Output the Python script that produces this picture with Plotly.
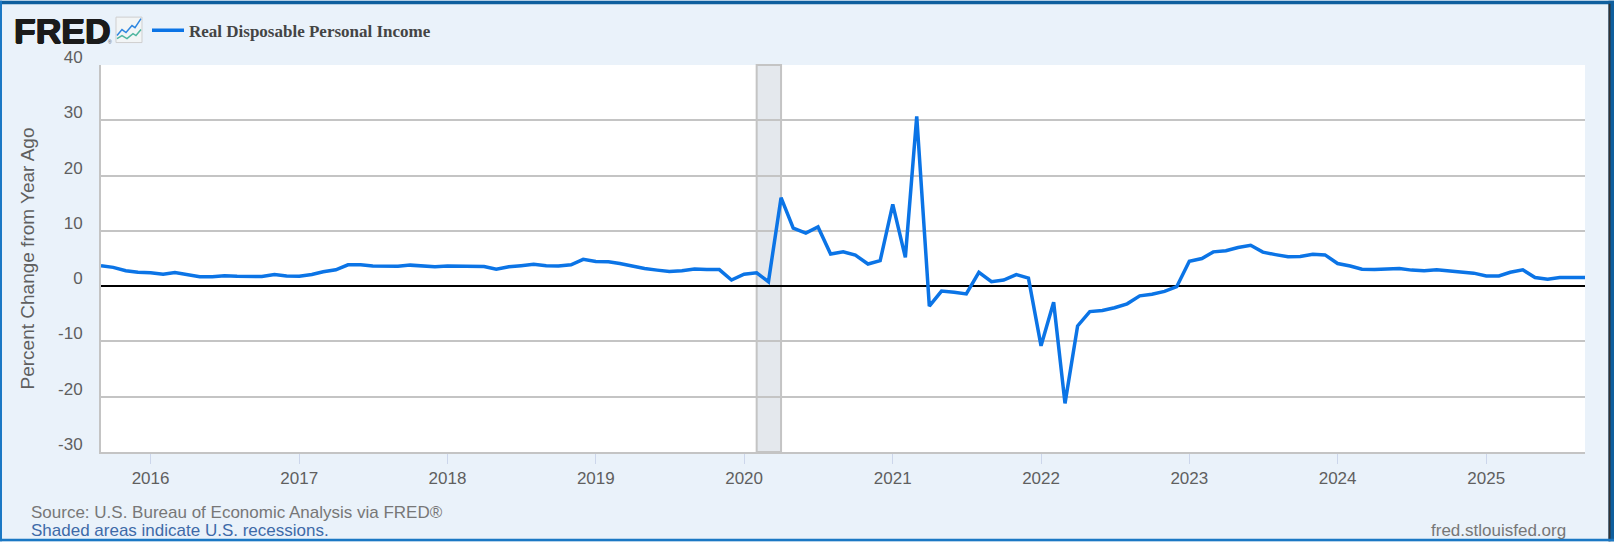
import pandas as pd
import plotly.graph_objects as go

W, H = 1614, 542
ML, MR, MT, MB = 101, 29, 64.5, 89.5

dates = pd.date_range('2015-09-01', '2025-09-01', freq='MS')
income = [
    3.7, 3.4, 2.8, 2.5, 2.4, 2.15, 2.45, 2.05, 1.7, 1.7, 1.9, 1.8,
    1.75, 1.75, 2.1, 1.85, 1.8, 2.1, 2.6, 2.95, 3.85, 3.85, 3.65, 3.65,
    3.6, 3.8, 3.65, 3.5, 3.65, 3.65, 3.6, 3.55, 3.05, 3.5, 3.7, 3.95,
    3.7, 3.65, 3.85, 4.85, 4.45, 4.4, 4.1, 3.6, 3.2, 2.9, 2.65, 2.8,
    3.1, 3.0, 3.0, 1.1, 2.15, 2.4, 0.8, 16.0, 10.5, 9.6, 10.7, 5.8,
    6.2, 5.6, 4.0, 4.6, 14.8, 5.2, 30.7, -3.6, -0.9, -1.1, -1.4, 2.5,
    0.8, 1.1, 2.1, 1.45, -10.8, -2.9, -21.2, -7.2, -4.6, -4.4, -3.9, -3.2,
    -1.75, -1.45, -0.95, -0.1, 4.5, 5.0, 6.2, 6.4, 7.0, 7.4, 6.15, 5.7,
    5.3, 5.35, 5.75, 5.65, 4.1, 3.65, 3.05, 3.0, 3.05, 3.2, 2.9, 2.8,
    2.95, 2.8, 2.55, 2.35, 1.85, 1.85, 2.5, 2.95, 1.55, 1.25, 1.55, 1.6,
    1.55,
]
y_ticks = [-30, -20, -10, 0, 10, 20, 30, 40]
y_labels = ['-30', '-20', '-10', '0', '10', '20', '30', '40']
recession = ['2020-02-01', '2020-04-01']

BG = '#eaf2fa'
GRID = '#c4c4c4'
TEXT = '#5f5f5f'


# page pixels to paper coordinates, for the furniture outside the plot
def px(x):
    return (x - ML) / (W - ML - MR)


def py(y):
    return 1 - (y - MT) / (H - MT - MB)


def path(points):
    return 'M ' + ' L '.join(f'{px(a):.5f},{py(b):.5f}' for a, b in points)


def box(x0, y0, x1, y1, color):
    return dict(type='rect', xref='paper', yref='paper', x0=px(x0), y0=py(y0), x1=px(x1), y1=py(y1),
                fillcolor=color, line_width=0, layer='below')


def note(x, y, text, size, color, anchor='left', family='Liberation Sans', weight=None, shadow=None):
    return dict(xref='paper', yref='paper', x=px(x), y=py(y), text=text, showarrow=False,
                xanchor=anchor, yanchor='middle', align='left', borderpad=0,
                font=dict(family=family, size=size, color=color, weight=weight, shadow=shadow))


fig = go.Figure()
fig.add_trace(go.Scatter(x=dates, y=income, mode='lines', name='Real Disposable Personal Income',
                         line=dict(color='#0b74e6', width=3.5), showlegend=True))

shapes = [
    # frame
    box(0, 0, W, 3.5, '#0f5f9e'),
    box(0, 0, 2, H, '#1b78c4'),
    box(1608.5, 0, W, H, '#0f5f9e'),
    box(1608.5, 3, 1610.5, H, '#333333'),
    box(0, 539.5, W, H, '#1b78c4'),
    # line icon next to the logo
    dict(type='rect', xref='paper', yref='paper', x0=px(116), y0=py(16.5), x1=px(142), y1=py(42),
         fillcolor='#f2f5f6', line=dict(color='#cfcfcf', width=1)),
    dict(type='path', xref='paper', yref='paper', line=dict(color='#2f86e0', width=1.5),
         path=path([(117, 35), (122, 29), (126, 32), (132, 25), (135, 27), (141, 18)])),
    dict(type='path', xref='paper', yref='paper', line=dict(color='#4fb6a0', width=1.5),
         path=path([(117, 38), (122, 35), (127, 38), (133, 33), (136, 35), (141, 29)])),
    # recession band
    dict(type='rect', xref='x', yref='paper', x0=recession[0], x1=recession[1], y0=0, y1=1,
         fillcolor='#e4e8ed', line=dict(color=GRID, width=2), layer='below'),
]

annotations = [
    note(13, 30, 'FRED', 35.5, '#1b1b1b', weight=900,
         shadow='0.8px 0 0 #1b1b1b, -0.8px 0 0 #1b1b1b, 0 0.5px 0 #1b1b1b, 0 -0.5px 0 #1b1b1b'),
    note(106.5, 41, '®', 5, '#555555'),
    note(30, 513, 'Source: U.S. Bureau of Economic Analysis via FRED®', 17, '#777777'),
    note(30, 531, 'Shaded areas indicate U.S. recessions.', 17, '#3e6aa8'),
    note(1567, 531, 'fred.stlouisfed.org', 17, '#777777', anchor='right'),
]

fig.update_layout(
    width=W,
    height=H,
    margin=dict(l=ML, r=MR, t=MT, b=MB, pad=0),
    paper_bgcolor=BG,
    plot_bgcolor='white',
    font=dict(family='Liberation Sans', size=17, color=TEXT),
    shapes=shapes,
    annotations=annotations,
    legend=dict(orientation='h', x=px(147), xanchor='left', y=py(30), yanchor='middle',
                bgcolor='rgba(0,0,0,0)', itemwidth=32,
                font=dict(family='Liberation Serif', size=17, color='#444444', weight='bold')),
)
fig.update_xaxes(
    range=['2015-09-01', '2025-09-01'],
    tick0='2016-01-01',
    dtick='M12',
    tickformat='%Y',
    ticks='outside',
    ticklen=10,
    tickwidth=1,
    tickcolor='#ccd6eb',
    showgrid=False,
    showline=True,
    linecolor=GRID,
    linewidth=2,
    zeroline=False,
)
fig.update_yaxes(
    range=[-30, 40],
    tickvals=y_ticks,
    ticktext=y_labels,
    ticks='',
    ticklabelstandoff=13,
    ticklabelshift=-8,
    showgrid=True,
    gridcolor=GRID,
    gridwidth=2,
    showline=True,
    linecolor=GRID,
    linewidth=2,
    zeroline=True,
    zerolinecolor='black',
    zerolinewidth=2,
    title=dict(text='Percent Change from Year Ago', standoff=18, font=dict(size=19, color=TEXT)),
)

fig.write_html('out.html', config=dict(displayModeBar=False),
               post_script="document.body.style.margin='0';document.body.style.overflow='hidden';")
